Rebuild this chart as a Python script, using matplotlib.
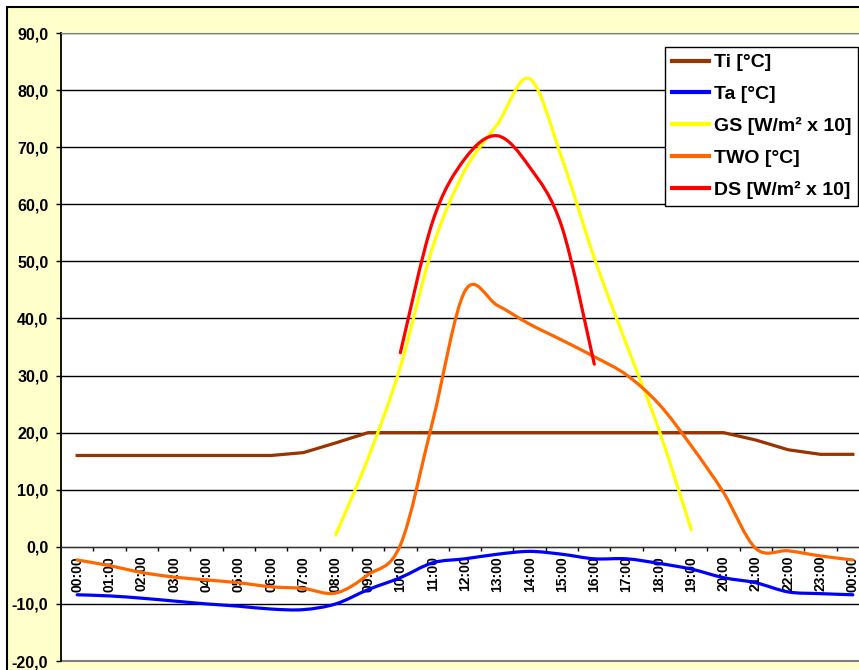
import numpy as np
import matplotlib
matplotlib.use("Agg")
import matplotlib.pyplot as plt
from matplotlib.patches import Rectangle, PathPatch
from matplotlib.path import Path
from matplotlib.lines import Line2D

hours = ["00:00", "01:00", "02:00", "03:00", "04:00", "05:00", "06:00", "07:00",
         "08:00", "09:00", "10:00", "11:00", "12:00", "13:00", "14:00", "15:00",
         "16:00", "17:00", "18:00", "19:00", "20:00", "21:00", "22:00", "23:00", "00:00"]

ti = [16.0, 16.0, 16.0, 16.0, 16.0, 16.0, 16.0, 16.5, 18.2, 20.0, 20.0, 20.0, 20.0,
      20.0, 20.0, 20.0, 20.0, 20.0, 20.0, 20.0, 20.0, 18.7, 17.0, 16.2, 16.2]
ta = [-8.4, -8.6, -9.0, -9.5, -10.0, -10.4, -10.9, -11.0, -10.0, -7.5, -5.4, -2.8, -2.1,
      -1.3, -0.8, -1.3, -2.1, -2.1, -2.9, -3.9, -5.4, -6.3, -7.9, -8.2, -8.4]
two = [-2.3, -3.3, -4.5, -5.3, -5.8, -6.3, -7.0, -7.3, -8.1, -4.9, 0.3, 22.0, 44.8,
       42.3, 39.0, 36.2, 33.3, 30.1, 25.0, 17.7, 9.5, -0.3, -0.7, -1.6, -2.3]
# GS only from 08:00 to 19:00, DS only from 10:00 to 16:00
gs_x = [8, 9, 10, 11, 12, 13, 14, 15, 16, 17, 18, 19]
gs = [2.1, 15.5, 31.5, 52.5, 66.0, 74.0, 82.0, 68.0, 50.6, 35.4, 20.5, 3.0]
ds_x = [10, 11, 12, 13, 14, 15, 16]
ds = [34.0, 57.0, 68.0, 72.0, 66.5, 56.0, 32.0]

FONT = "Liberation Sans"
COLORS = {"Ti": "#993300", "Ta": "#0000FF", "GS": "#FFFF00", "TWO": "#FF6600", "DS": "#FF0000"}
x = np.arange(len(hours))


def smooth_path(xs, ys):
    # Excel-like smoothed line: cubic bezier through the points
    p = np.column_stack([xs, ys]).astype(float)
    verts = [p[0]]
    codes = [Path.MOVETO]
    n = len(p)
    for i in range(n - 1):
        p0 = p[i - 1] if i > 0 else p[i]
        p3 = p[i + 2] if i + 2 < n else p[i + 1]
        c1 = p[i] + (p[i + 1] - p0) / 6
        c2 = p[i + 1] - (p3 - p[i]) / 6
        verts += [c1, c2, p[i + 1]]
        codes += [Path.CURVE4] * 3
    return Path(verts, codes)


fig = plt.figure(figsize=(8.59, 6.7), dpi=100)
fig.patch.set_facecolor("white")
# chart area (yellow, black border, cut at right/bottom)
fig.patches.append(Rectangle((7 / 859, -0.1), 1.2, 1 - 7 / 670 + 0.1,
                             transform=fig.transFigure, facecolor="#FFFFCC",
                             edgecolor="black", lw=1.5, zorder=-10))

ax = fig.add_axes([61 / 859, 9 / 670, 808 / 859, 628 / 670])
ax.set_facecolor("white")
ax.spines["bottom"].set_position(("data", 0))

lw = 2.3
ax.plot(x, ti, color=COLORS["Ti"], lw=lw, zorder=3)
for key, xs, ys in [("Ta", x, ta), ("GS", gs_x, gs), ("TWO", x, two), ("DS", ds_x, ds)]:
    ax.add_patch(PathPatch(smooth_path(xs, ys), facecolor="none", edgecolor=COLORS[key],
                           lw=lw, zorder=3, capstyle="round", joinstyle="round"))

ax.set_xlim(-0.5, 24.5)
ax.set_ylim(-20, 90)

yt = np.arange(-20, 91, 10)
ax.set_yticks(yt)
ax.set_yticklabels([f"{v:.1f}".replace(".", ",") for v in yt])
ax.tick_params(axis="y", direction="out", length=3.6, width=1, pad=5.5, color="black",
               labelsize=11.5)
ax.yaxis.grid(True, color="black", lw=1)
ax.set_axisbelow(True)

ax.set_xticks(x)
ax.set_xticklabels(hours)
ax.set_xticks(np.arange(0.5, 24, 1), minor=True)
ax.tick_params(axis="x", which="major", length=0, pad=6.5, labelrotation=90, labelsize=10)
ax.tick_params(axis="x", which="minor", direction="out", length=3, width=1, color="black")
for lab in ax.get_xticklabels() + ax.get_yticklabels():
    lab.set_fontfamily(FONT)
    lab.set_fontweight("bold")

ax.spines["bottom"].set_color("#333333")
ax.spines["left"].set_color("black")
ax.spines["left"].set_linewidth(1.3)
ax.spines["top"].set_color("#808080")
ax.spines["right"].set_visible(False)
ax.add_line(Line2D([0, 1], [0, 0], transform=ax.transAxes, color="#808080",
                   lw=1.5, clip_on=False))

labels = ["Ti [°C]", "Ta [°C]", "GS [W/m² x 10]", "TWO [°C]", "DS [W/m² x 10]"]
handles = [Line2D([], [], color=COLORS[k], lw=3) for k in ["Ti", "Ta", "GS", "TWO", "DS"]]
leg = ax.legend(handles, labels, loc="upper right", bbox_to_anchor=(858 / 859, 1 - 47 / 670),
                bbox_transform=fig.transFigure, borderaxespad=0,
                prop={"family": FONT, "weight": "bold", "size": 14},
                handlelength=1.9, handletextpad=0.25, labelspacing=0.72,
                borderpad=0.35, fancybox=False, framealpha=1, edgecolor="black")
leg.get_frame().set_linewidth(1)

fig.savefig("out.png", dpi=100)
